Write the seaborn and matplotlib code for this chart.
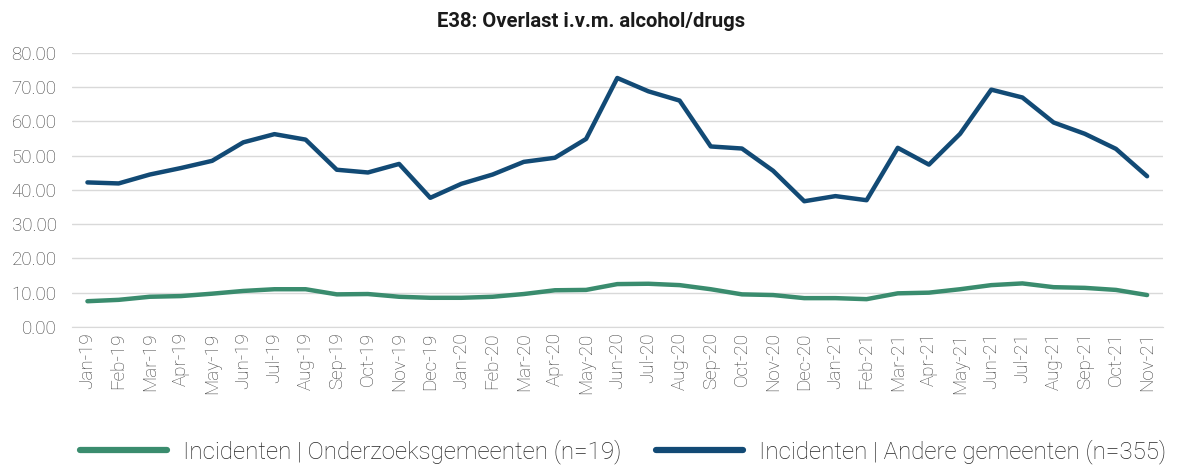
import pandas as pd
import numpy as np
import matplotlib.pyplot as plt
import seaborn as sns

months = ['Jan-19', 'Feb-19', 'Mar-19', 'Apr-19', 'May-19', 'Jun-19', 'Jul-19', 'Aug-19',
          'Sep-19', 'Oct-19', 'Nov-19', 'Dec-19', 'Jan-20', 'Feb-20', 'Mar-20', 'Apr-20',
          'May-20', 'Jun-20', 'Jul-20', 'Aug-20', 'Sep-20', 'Oct-20', 'Nov-20', 'Dec-20',
          'Jan-21', 'Feb-21', 'Mar-21', 'Apr-21', 'May-21', 'Jun-21', 'Jul-21', 'Aug-21',
          'Sep-21', 'Oct-21', 'Nov-21']

onderzoek = [7.5, 7.9, 8.8, 9.0, 9.7, 10.5, 11.0, 11.0, 9.5, 9.6, 8.8, 8.5,
             8.5, 8.8, 9.6, 10.7, 10.8, 12.5, 12.6, 12.2, 11.0, 9.5, 9.3, 8.4,
             8.4, 8.1, 9.8, 10.0, 11.0, 12.2, 12.7, 11.6, 11.4, 10.8, 9.3]

andere = [42.2, 41.9, 44.5, 46.4, 48.5, 53.9, 56.3, 54.7, 45.9, 45.1, 47.6, 37.7,
          41.8, 44.5, 48.2, 49.4, 54.9, 72.7, 68.8, 66.1, 52.7, 52.1, 45.6, 36.7,
          38.2, 37.0, 52.3, 47.4, 56.4, 69.3, 67.0, 59.7, 56.4, 52.0, 44.0]

series_names = ['Incidenten | Onderzoeksgemeenten (n=19)',
                'Incidenten | Andere gemeenten (n=355)']
colors = ['#3A8C6E', '#124A75']

df = pd.DataFrame({
    'Maand': months * 2,
    'Waarde': onderzoek + andere,
    'Reeks': [series_names[0]] * len(months) + [series_names[1]] * len(months),
})

sns.set_style('white')
plt.rcParams['font.family'] = ['Roboto', 'DejaVu Sans']

fig = plt.figure(figsize=(11.78, 4.69), dpi=100)
ax = fig.add_axes([0.061, 0.303, 0.926, 0.584])

sns.lineplot(data=df, x='Maand', y='Waarde', hue='Reeks',
             palette=colors, linewidth=3.2, sort=False, ax=ax)

ax.set_xlim(-0.5, len(months) - 0.5)
ax.set_ylim(0, 80)
ax.set_yticks(np.arange(0, 81, 10))
ax.set_yticklabels([f'{v:.2f}' for v in np.arange(0, 81, 10)],
                   fontsize=13.5, color='#404040', fontweight='light')
ax.yaxis.grid(True, color='#D9D9D9', linewidth=1)
ax.set_axisbelow(True)

ax.set_xticks(range(len(months)))
ax.set_xticklabels(months, rotation=90, fontsize=13.5, color='#404040',
                   fontweight='light')
ax.set_xticks(np.arange(-0.5, len(months), 1), minor=True)
ax.tick_params(axis='x', which='major', length=0, pad=4)
ax.tick_params(axis='x', which='minor', length=5, color='#D9D9D9', width=1)
ax.tick_params(axis='y', length=0, pad=11)

for side in ['top', 'right', 'left']:
    ax.spines[side].set_visible(False)
ax.spines['bottom'].set_color('#D9D9D9')

ax.set_xlabel('')
ax.set_ylabel('')
fig.text(0.502, 0.955, 'E38: Overlast i.v.m. alcohol/drugs', fontsize=14.6,
         fontweight='bold', color='#1A1A1A', ha='center', va='center')

handles, labels = ax.get_legend_handles_labels()
ax.get_legend().remove()
leg = fig.legend(handles, labels, loc='center', bbox_to_anchor=(0.529, 0.036),
                 ncol=2, frameon=False, handlelength=3.6, handletextpad=0.66,
                 columnspacing=1.45, labelcolor='#262626',
                 prop={'size': 17.4, 'weight': 'light'})
for line in leg.get_lines():
    line.set_linewidth(4.5)
    line.set_solid_capstyle('round')

fig.savefig('out.png', dpi=100)
